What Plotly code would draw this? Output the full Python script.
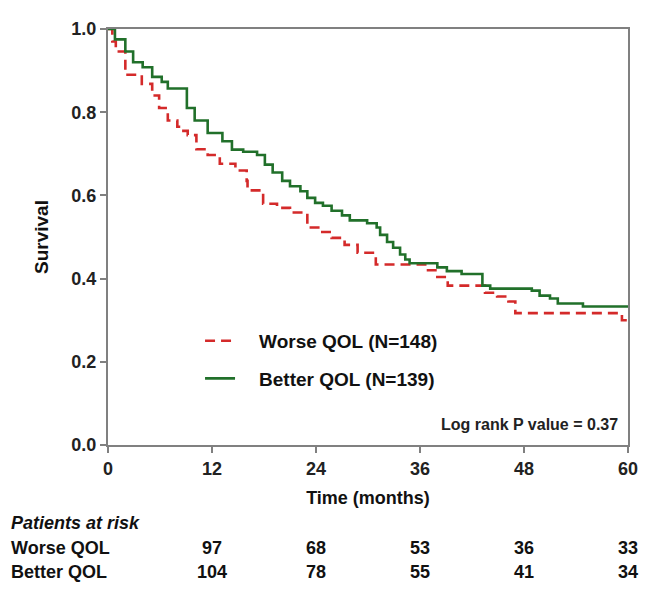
import plotly.graph_objects as go

# Kaplan-Meier step data
t_worse = [0, 0.5, 0.9, 2.0, 3.9, 5.1, 5.9, 6.9, 8.0, 8.7, 9.2, 10.2, 11.5, 12.9, 14.7,
           16.0, 16.1, 17.9, 19.5, 21.0, 23.0, 24.5, 25.8, 27.3, 28.8, 30.9, 36.6, 38.0,
           39.2, 43.5, 44.9, 46.2, 47.0, 59.3, 60]
s_worse = [1.0, 0.97, 0.946, 0.89, 0.868, 0.84, 0.81, 0.78, 0.765, 0.755, 0.745, 0.711,
           0.697, 0.676, 0.66, 0.635, 0.612, 0.58, 0.57, 0.559, 0.523, 0.512, 0.498, 0.481,
           0.462, 0.434, 0.42, 0.404, 0.383, 0.366, 0.357, 0.345, 0.317, 0.30, 0.30]

t_better = [0, 0.8, 2.0, 2.9, 4.0, 5.1, 6.2, 6.9, 9.1, 10.0, 11.5, 13.2, 14.3, 15.6, 17.2,
            18.1, 19.0, 20.1, 21.0, 22.2, 23.0, 23.9, 24.8, 25.8, 27.0, 27.9, 29.9, 31.0,
            31.4, 32.2, 32.9, 33.7, 34.3, 34.8, 38.0, 39.1, 40.8, 43.2, 44.1, 48.9, 49.8,
            51.0, 51.9, 54.8, 60]
s_better = [1.0, 0.975, 0.946, 0.92, 0.908, 0.885, 0.873, 0.857, 0.81, 0.78, 0.75, 0.73,
            0.71, 0.705, 0.697, 0.674, 0.655, 0.635, 0.622, 0.61, 0.594, 0.582, 0.575, 0.563,
            0.552, 0.54, 0.533, 0.523, 0.505, 0.488, 0.474, 0.458, 0.446, 0.437, 0.427, 0.418,
            0.411, 0.383, 0.376, 0.371, 0.359, 0.352, 0.34, 0.333, 0.333]

x_ticks = [0, 12, 24, 36, 48, 60]
y_ticks = [0.0, 0.2, 0.4, 0.6, 0.8, 1.0]
risk_times = [12, 24, 36, 48, 60]
risk_worse = [97, 68, 53, 36, 33]
risk_better = [104, 78, 55, 41, 34]

RED = "#d42a2a"
GREEN = "#21702a"
FONT = "Liberation Sans, Arial, sans-serif"
FS = 18
PAD = "\u2003"  # gap between legend sample and text

fig = go.Figure()
fig.add_trace(go.Scatter(x=t_worse, y=s_worse, mode="lines", line_shape="hv",
                         line=dict(color=RED, width=2.6, dash="10px,6px"),
                         name=PAD + "Worse QOL (N=148)", legendgroup="a"))
fig.add_trace(go.Scatter(x=t_better, y=s_better, mode="lines", line_shape="hv",
                         line=dict(color=GREEN, width=2.6),
                         name=PAD + "Better QOL (N=139)", legendgroup="b"))

axis_common = dict(showline=True, linecolor="#808080", linewidth=2, mirror=True,
                   ticks="outside", ticklen=6, tickwidth=2, tickcolor="#808080",
                   showgrid=False, zeroline=False,
                   tickfont=dict(family=FONT, size=FS, color="#222", weight="bold"))

fig.update_xaxes(range=[0, 60], tickvals=x_ticks, ticktext=[str(v) for v in x_ticks],
                 title=dict(text="Time (months)", standoff=14,
                            font=dict(family=FONT, size=FS, color="#111", weight="bold")),
                 **axis_common)
fig.update_yaxes(range=[0, 1.0], tickvals=y_ticks, tickformat=".1f",
                 title=dict(text="Survival", standoff=18,
                            font=dict(family=FONT, size=19, color="#111", weight="bold")),
                 **axis_common)

Y_HDR, Y_W, Y_B = -0.188, -0.247, -0.306
annotations = [
    dict(text="Log rank P value = 0.37", xref="paper", yref="paper", x=0.985, y=0.05,
         xanchor="right", yanchor="middle", showarrow=False,
         font=dict(family=FONT, size=16, color="#222", weight="bold")),
    dict(text="<i>Patients at risk</i>", xref="paper", yref="paper", x=-0.19, y=Y_HDR,
         xanchor="left", yanchor="middle", showarrow=False,
         font=dict(family=FONT, size=FS, color="#111", weight="bold")),
    dict(text="Worse QOL", xref="paper", yref="paper", x=-0.19, y=Y_W,
         xanchor="left", yanchor="middle", showarrow=False,
         font=dict(family=FONT, size=FS, color="#111", weight="bold")),
    dict(text="Better QOL", xref="paper", yref="paper", x=-0.19, y=Y_B,
         xanchor="left", yanchor="middle", showarrow=False,
         font=dict(family=FONT, size=FS, color="#111", weight="bold")),
]
for t, w, b in zip(risk_times, risk_worse, risk_better):
    for val, yy in ((w, Y_W), (b, Y_B)):
        annotations.append(dict(text=str(val), xref="x", yref="paper", x=t, y=yy,
                                xanchor="center", yanchor="middle", showarrow=False,
                                font=dict(family=FONT, size=FS, color="#111", weight="bold")))

fig.update_layout(
    width=648, height=588,
    margin=dict(l=100, r=28, t=11, b=151),
    paper_bgcolor="white", plot_bgcolor="white",
    font=dict(family=FONT, color="#111"),
    showlegend=True,
    legend=dict(x=0.177, y=0.296, xanchor="left", yanchor="top",
                bgcolor="rgba(0,0,0,0)", borderwidth=0, tracegroupgap=10,
                font=dict(family=FONT, size=19, color="#111", weight="bold")),
    annotations=annotations,
)

fig.write_html("out.html")
